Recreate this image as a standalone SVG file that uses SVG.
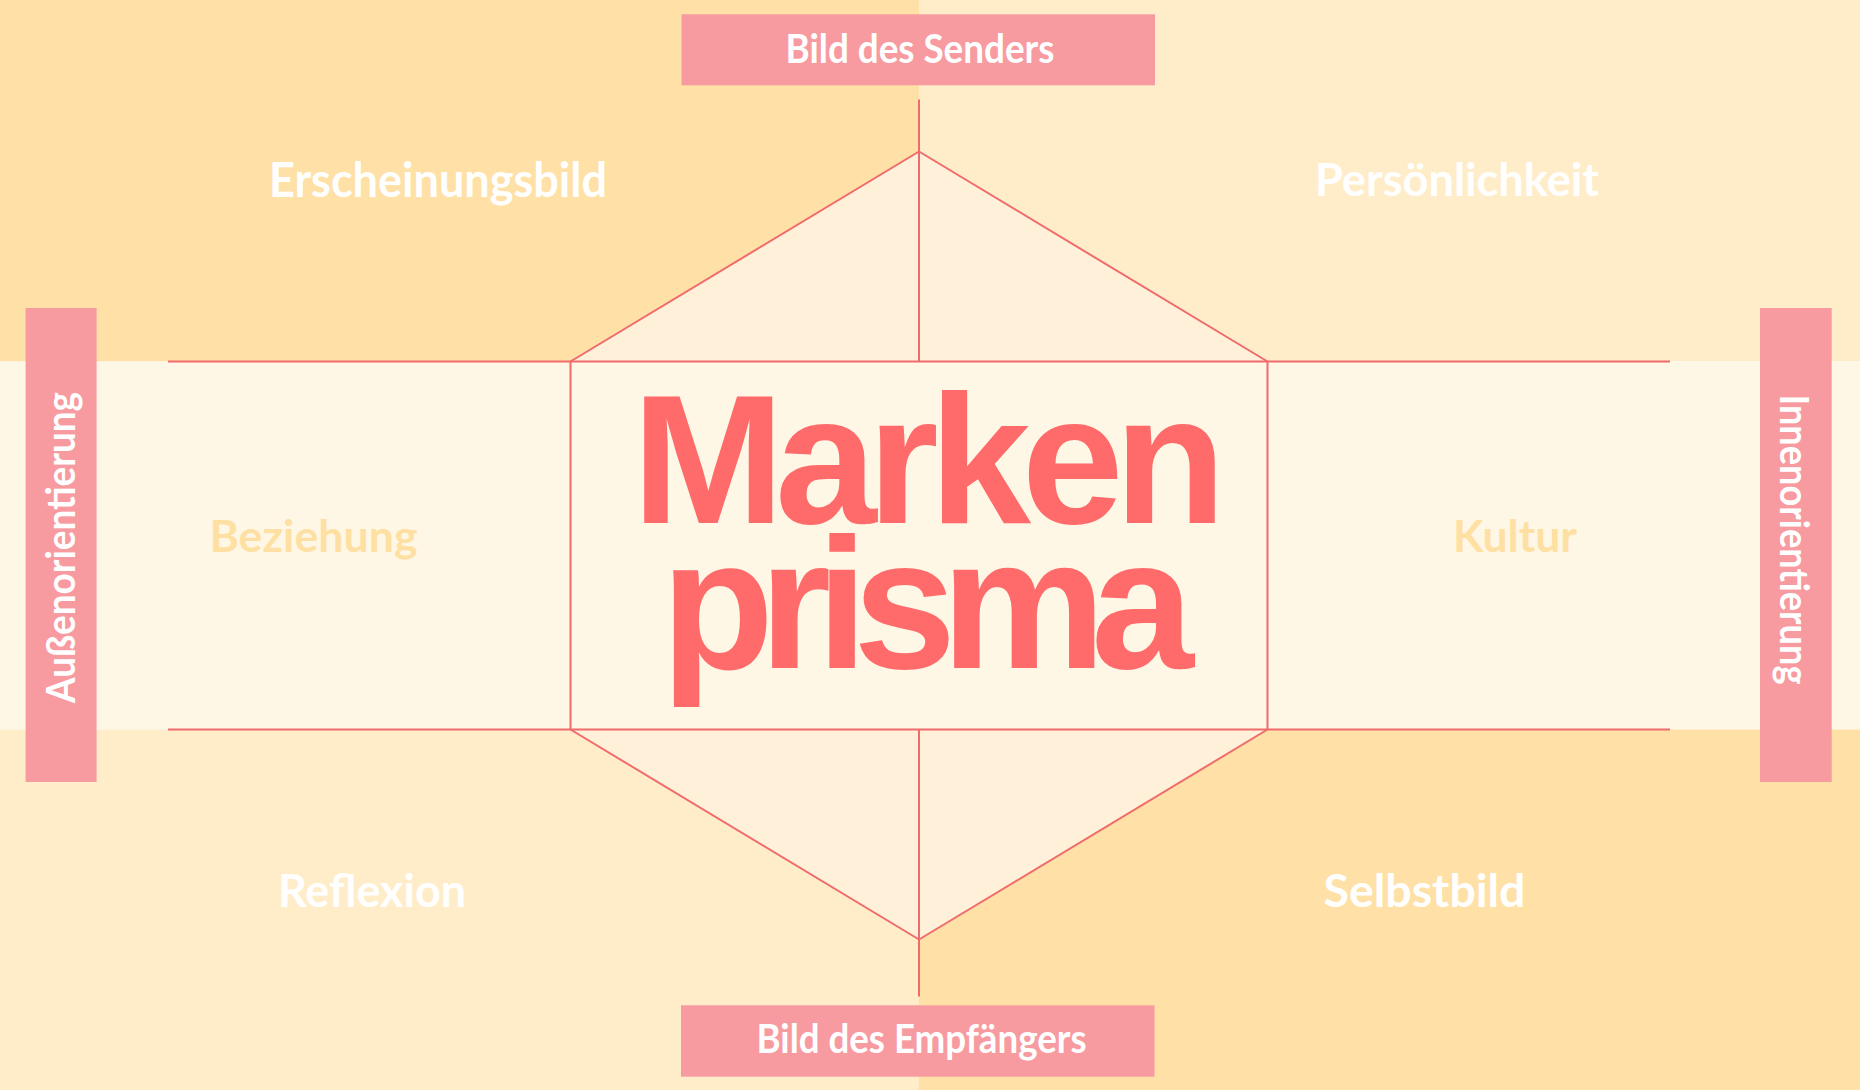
<svg xmlns="http://www.w3.org/2000/svg" width="1860" height="1090" viewBox="0 0 1860 1090">
  <style>
    .dark { fill: #FFE0A6; }
    .light { fill: #FFEDCA; }
    .cream { fill: #FFF7E6; }
    .tri { fill: #FFF1D9; }
    .box { fill: #F79BA0; }
    .ln { stroke: #F06B6B; stroke-width: 2; fill: none; }
    .lbl { font-family: "Lato", "Liberation Sans", sans-serif; font-weight: 700; }
    .white { fill: #FFFFFF; }
    .soft { fill: #FFE0A3; }
    .big { font-family: "Liberation Sans", Arial, sans-serif; font-weight: 700; fill: #FF6B6B; }
  </style>

  <g id="background">
    <rect class="dark" x="0" y="0" width="919" height="361.5"/>
    <rect class="light" x="919" y="0" width="941" height="361.5"/>
    <rect class="cream" x="0" y="361.5" width="1860" height="368"/>
    <rect class="light" x="0" y="729.5" width="919" height="360.5"/>
    <rect class="dark" x="919" y="729.5" width="941" height="360.5"/>
    <polygon class="tri" points="919,151.5 570.5,361.5 1267.5,361.5"/>
    <polygon class="tri" points="570.5,729.5 1267.5,729.5 919,939.5"/>
  </g>

  <g id="connectors">
    <line class="ln" x1="168" y1="361.5" x2="1670" y2="361.5"/>
    <line class="ln" x1="168" y1="729.5" x2="1670" y2="729.5"/>
    <line class="ln" x1="919" y1="99.5" x2="919" y2="361.5"/>
    <line class="ln" x1="919" y1="729.5" x2="919" y2="996.5"/>
    <line class="ln" x1="570.5" y1="361.5" x2="570.5" y2="729.5"/>
    <line class="ln" x1="1267.5" y1="361.5" x2="1267.5" y2="729.5"/>
    <line class="ln" x1="919" y1="151.5" x2="570.5" y2="361.5"/>
    <line class="ln" x1="919" y1="151.5" x2="1267.5" y2="361.5"/>
    <line class="ln" x1="570.5" y1="729.5" x2="919" y2="939.5"/>
    <line class="ln" x1="1267.5" y1="729.5" x2="919" y2="939.5"/>
  </g>

  <g id="node-bild-des-senders">
    <rect class="box" x="681.5" y="14.3" width="473.5" height="71"/>
    <text class="lbl white" x="785.5" y="63.3" font-size="40" textLength="269" lengthAdjust="spacingAndGlyphs">Bild des Senders</text>
  </g>

  <g id="node-bild-des-empfaengers">
    <rect class="box" x="681" y="1005.3" width="473.5" height="71.4"/>
    <text class="lbl white" x="756.5" y="1053.3" font-size="40" textLength="330" lengthAdjust="spacingAndGlyphs">Bild des Empfängers</text>
  </g>

  <g id="node-aussenorientierung">
    <rect class="box" x="25.6" y="308" width="71" height="474"/>
    <text class="lbl white" transform="translate(75,703) rotate(-90)" x="0" y="0" font-size="40" textLength="311" lengthAdjust="spacingAndGlyphs">Außenorientierung</text>
  </g>

  <g id="node-innenorientierung">
    <rect class="box" x="1760" y="308" width="71.7" height="474"/>
    <text class="lbl white" transform="translate(1780,394.5) rotate(90)" x="0" y="0" font-size="40" textLength="290" lengthAdjust="spacingAndGlyphs">Innenorientierung</text>
  </g>

  <g id="node-erscheinungsbild">
    <text class="lbl white" x="269" y="197.3" font-size="48" textLength="338" lengthAdjust="spacingAndGlyphs">Erscheinungsbild</text>
  </g>

  <g id="node-persoenlichkeit">
    <text class="lbl white" x="1315" y="196" font-size="46" textLength="284" lengthAdjust="spacingAndGlyphs">Persönlichkeit</text>
  </g>

  <g id="node-beziehung">
    <text class="lbl soft" x="209.5" y="551.7" font-size="44" textLength="208" lengthAdjust="spacingAndGlyphs">Beziehung</text>
  </g>

  <g id="node-kultur">
    <text class="lbl soft" x="1453" y="551.7" font-size="44" textLength="124" lengthAdjust="spacingAndGlyphs">Kultur</text>
  </g>

  <g id="node-reflexion">
    <text class="lbl white" x="278" y="907.3" font-size="46" textLength="188" lengthAdjust="spacingAndGlyphs">Reflexion</text>
  </g>

  <g id="node-selbstbild">
    <text class="lbl white" x="1323.5" y="906.5" font-size="46" textLength="202" lengthAdjust="spacingAndGlyphs">Selbstbild</text>
  </g>

  <g id="node-markenprisma">
    <text class="big" x="632" y="522.7" font-size="183" textLength="594" lengthAdjust="spacing">Marken</text>
    <text class="big" x="661" y="668.3" font-size="185" textLength="533" lengthAdjust="spacing">prisma</text>
  </g>
</svg>
